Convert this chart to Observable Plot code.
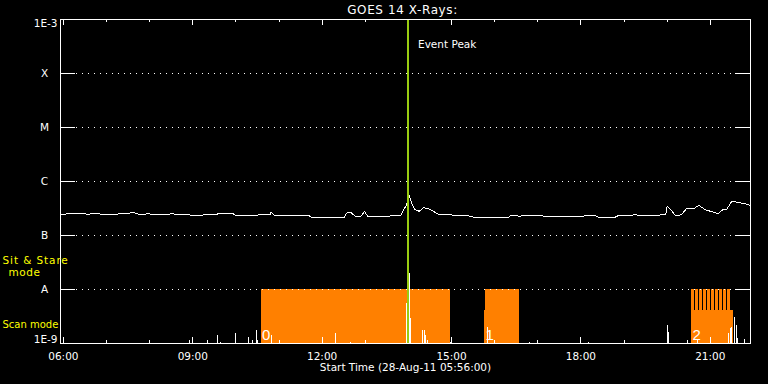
<!DOCTYPE html>
<html><head><meta charset="utf-8">
<script src="https://cdn.jsdelivr.net/npm/d3@7"></script>
<script src="https://cdn.jsdelivr.net/npm/@observablehq/plot@0.6"></script>
<style>html,body{margin:0;padding:0;background:#000;}#chart{width:768px;height:384px;overflow:hidden;}</style>
</head><body><div id="chart"></div>
<script>
// ---- data ----
const title = "GOES 14 X-Rays:";
const xTitle = "Start Time (28-Aug-11 05:56:00)";
const xDomain = ["05:56", "21:56"];
const yDomain = [1e-9, 1e-3];

const curveTimes = ["05:57","06:12","06:20","06:34","06:47","06:58","07:12","07:16","07:20","07:30","07:37","07:44","07:55","07:58","08:02","08:26","08:30","08:40","08:54","08:58","09:12","09:17","09:33","09:35","09:56","09:59","10:31","10:35","10:48","10:49","10:53","10:56","11:13","11:41","11:45","12:31","12:34","12:39","12:43","12:46","12:54","12:59","13:03","13:04","13:32","13:36","13:49","13:53","13:57","14:01","14:04","14:09","14:15","14:21","14:28","14:35","14:41","14:55","15:05","15:23","15:33","15:51","16:01","16:19","16:23","16:33","17:01","17:19","18:01","18:06","18:20","18:24","18:48","18:52","19:10","19:16","19:20","19:48","19:52","19:58","20:00","20:06","20:12","20:20","20:27","20:37","20:44","20:53","21:02","21:11","21:18","21:23","21:30","21:39","21:49","21:56"];
const curveFlux = [2.43e-7,2.60e-7,2.54e-7,2.49e-7,2.54e-7,2.43e-7,2.43e-7,2.49e-7,2.57e-7,2.57e-7,2.68e-7,2.49e-7,2.49e-7,2.60e-7,2.43e-7,2.43e-7,2.54e-7,2.43e-7,2.43e-7,2.36e-7,2.36e-7,2.43e-7,2.43e-7,2.54e-7,2.54e-7,2.39e-7,2.39e-7,2.46e-7,2.46e-7,2.72e-7,2.40e-7,2.36e-7,2.36e-7,2.36e-7,2.19e-7,2.19e-7,2.60e-7,2.72e-7,2.46e-7,2.26e-7,2.26e-7,2.80e-7,2.30e-7,2.23e-7,2.23e-7,2.33e-7,2.33e-7,2.92e-7,3.61e-7,5.54e-7,4.16e-7,3.05e-7,2.80e-7,3.27e-7,3.14e-7,2.80e-7,2.49e-7,2.49e-7,2.33e-7,2.33e-7,2.14e-7,2.14e-7,2.16e-7,2.16e-7,2.36e-7,2.29e-7,2.33e-7,2.23e-7,2.23e-7,2.33e-7,2.33e-7,2.19e-7,2.19e-7,2.33e-7,2.33e-7,2.46e-7,2.33e-7,2.33e-7,2.46e-7,2.43e-7,3.46e-7,2.92e-7,2.29e-7,2.43e-7,3.14e-7,3.14e-7,3.61e-7,3.01e-7,2.76e-7,2.54e-7,3.05e-7,3.05e-7,4.34e-7,4.06e-7,3.88e-7,3.61e-7];

const spikeTimes = ["08:56","09:21","09:34","09:38","10:00","10:17","10:23","10:28","10:30","10:49","12:18","12:39","13:57","14:02","14:03","14:19","14:22","14:24","14:27","14:59","15:50","16:49","18:11","20:01","20:02","20:28","20:42","21:26","21:28","21:30","21:34","21:36","21:38","21:47"];
const spikeFlux = [1.14e-9,1.14e-9,1.41e-9,1.06e-9,1.55e-9,1.31e-9,1.14e-9,1.74e-9,1.14e-9,1.41e-9,1.51e-9,1.03e-9,5.45e-9,2.0e-8,2.87e-9,1.74e-9,1.74e-9,1.4e-9,1.15e-9,1.05e-9,1.95e-9,1.03e-9,1.03e-9,2.16e-9,1.6e-9,1.14e-9,1.2e-9,1.5e-9,1.86e-9,2.0e-9,3.04e-9,2.16e-9,1.25e-9,1.17e-9];

// observing mode bars: top at A (1E-8) = sit & stare, lower = scan
const modeStart = ["10:35","15:46","15:47","20:34","20:33:42","20:39:16","20:44:50","20:50:24","20:56:00","21:01:30","21:07:06","21:12:42","21:18:12","21:23:48"];
const modeEnd   = ["14:58","15:47","16:34","21:32","20:37:54","20:43:26","20:49:00","20:54:34","21:00:08","21:05:42","21:11:18","21:16:54","21:22:24","21:28:00"];
const modeTop   = [1e-8,4.1e-9,1e-8,4.1e-9,1e-8,1e-8,1e-8,1e-8,1e-8,1e-8,1e-8,1e-8,1e-8,1e-8];

const regionLabels = ["0","1","2"];
const regionLabelTimes = ["10:35","15:46","20:34"];
const eventPeakTime = "13:59:30";
const eventLabel = "Event Peak";

const majorTicks = ["06:00","09:00","12:00","15:00","18:00","21:00"];
const minorTicks = ["07:00","08:00","10:00","11:00","13:00","14:00","16:00","17:00","19:00","20:00"];
const gridFlux = [1e-4,1e-5,1e-6,1e-7,1e-8];
const letterFlux = [1e-4,1e-5,1e-6,1e-7,1e-8];
const letterLabels = ["X","M","C","B","A"];
const endFlux = [1e-3,1e-9];
const endLabels = ["1E-3","1E-9"];
const modeLabels = ["Sit & Stare","mode","Scan mode"];

// ---- build ----
const T = s => { const [h,m,sec] = s.split(":").map(Number); return new Date(Date.UTC(2011,7,28,h,m,sec||0)); };
const curve = curveTimes.map((t,i) => ({t: T(t), f: curveFlux[i]}));
const spikes = spikeTimes.map((t,i) => ({t: T(t), f: spikeFlux[i]}));
const modes = modeStart.map((s,i) => ({x1: T(s), x2: T(modeEnd[i]), top: modeTop[i]}));
const regions = regionLabels.map((l,i) => ({t: T(regionLabelTimes[i]), l}));
const FONT = "DejaVu Sans";
const W = 768, H = 384, ML = 60, MR = 18, MT = 19, MB = 41;
const PW = W - ML - MR, PH = H - MT - MB;
const CR = "crispEdges";

const chart = Plot.plot({
  width: W, height: H,
  marginLeft: ML, marginRight: MR, marginTop: MT, marginBottom: MB,
  style: {background: "#000", color: "#fff", fontFamily: FONT, fontSize: "10.5px"},
  x: {type: "utc", domain: xDomain.map(T), axis: null},
  y: {type: "log", domain: yDomain, axis: null},
  marks: [
    Plot.rect(modes, {x1: "x1", x2: "x2", y1: () => yDomain[0], y2: "top", fill: "#ff8000", shapeRendering: CR}),
    Plot.ruleY(gridFlux, {stroke: "#fff", strokeDasharray: "1,5", insetLeft: 16, insetRight: 15, shapeRendering: CR}),
    Plot.ruleY(gridFlux, {stroke: "#fff", insetRight: PW - 15, shapeRendering: CR}),
    Plot.ruleY(gridFlux, {stroke: "#fff", insetLeft: PW - 15, shapeRendering: CR}),
    Plot.ruleX(majorTicks, {x: T, stroke: "#fff", insetTop: PH - 6, shapeRendering: CR}),
    Plot.ruleX(minorTicks, {x: T, stroke: "#fff", insetTop: PH - 3, shapeRendering: CR}),
    Plot.ruleX(majorTicks, {x: T, stroke: "#fff", insetBottom: PH - 6, shapeRendering: CR}),
    Plot.ruleX(minorTicks, {x: T, stroke: "#fff", insetBottom: PH - 3, shapeRendering: CR}),
    Plot.ruleX(spikes, {x: "t", y1: () => yDomain[0], y2: "f", stroke: "#fff", strokeWidth: 1, shapeRendering: CR}),
    Plot.line(curve, {x: "t", y: "f", stroke: "#fff", strokeWidth: 1, clip: true, shapeRendering: CR}),
    Plot.text(regions, {x: "t", y: () => yDomain[0], text: "l", textAnchor: "start", lineAnchor: "bottom", dx: 1, dy: -4, fill: "#fff", fontSize: 15, fontFamily: "Liberation Sans"}),
    Plot.ruleX([eventPeakTime], {x: T, stroke: "#99cc11", strokeWidth: 2, shapeRendering: CR}),
    Plot.text([eventLabel], {x: () => T(eventPeakTime), frameAnchor: "top", dy: 28, dx: 10, textAnchor: "start", lineAnchor: "bottom", fill: "#fff", fontSize: 10.5}),
    Plot.frame({stroke: "#fff", shapeRendering: CR}),
    // axis labels
    Plot.text(majorTicks, {x: T, text: d => d, frameAnchor: "bottom", dy: 16, lineAnchor: "bottom", fill: "#fff", fontSize: 10.5}),
    Plot.text([xTitle], {frameAnchor: "bottom", dy: 27, lineAnchor: "bottom", fill: "#fff", fontSize: 10.5}),
    Plot.text([title], {frameAnchor: "top", dy: -6, dx: -3, lineAnchor: "bottom", fill: "#fff", fontSize: 12}),
    Plot.text(letterFlux, {y: d => d, text: (d,i) => letterLabels[i], frameAnchor: "left", dx: -16, textAnchor: "middle", lineAnchor: "middle", fill: "#fff", fontSize: 10.5}),
    Plot.text(endFlux, {y: d => d, text: (d,i) => endLabels[i], frameAnchor: "left", dx: -3, textAnchor: "end", lineAnchor: "middle", fill: "#fff", fontSize: 10.5}),
    Plot.text([modeLabels[0]], {frameAnchor: "top-left", dx: -58, dy: 244, textAnchor: "start", lineAnchor: "bottom", fill: "#ffff00", fontSize: 10.5}),
    Plot.text([modeLabels[1]], {frameAnchor: "top-left", dx: -36, dy: 256, textAnchor: "middle", lineAnchor: "bottom", fill: "#ffff00", fontSize: 10.5}),
    Plot.text([modeLabels[2]], {frameAnchor: "top-left", dx: -58, dy: 308, textAnchor: "start", lineAnchor: "bottom", fill: "#ffff00", fontSize: 10})
  ]
});
const sel = txt => d3.select(chart).selectAll("text").filter(function(){ return this.textContent === txt; });
// shift the end labels (1E-3 down, 1E-9 up) like the reference
sel("1E-3").attr("transform", function(){ return (this.getAttribute("transform")||"") + " translate(0,4)"; });
sel("1E-9").attr("transform", function(){ return (this.getAttribute("transform")||"") + " translate(0,-4)"; });
// wider letter spacing, as in the reference's vector font
sel(title).style("letter-spacing", "0.6px");
sel(modeLabels[0]).style("letter-spacing", "0.9px");
sel(modeLabels[1]).style("letter-spacing", "0.5px");
document.getElementById("chart").appendChild(chart);
</script>
</body></html>
